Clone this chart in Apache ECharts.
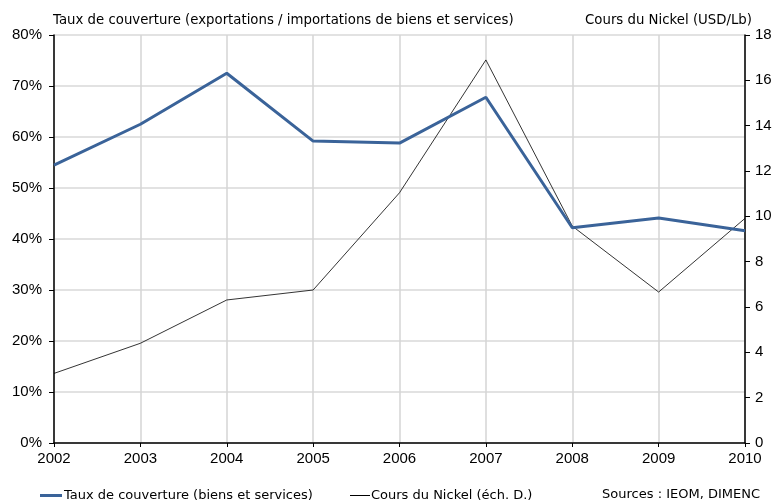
<!DOCTYPE html>
<html><head><meta charset="utf-8">
<script src="https://cdn.jsdelivr.net/npm/echarts@6/dist/echarts.min.js"></script>
<style>html,body{margin:0;padding:0;background:#fff}#c{width:778px;height:502px}</style>
</head><body><div id="c"></div>
<script>
const years = ['2002','2003','2004','2005','2006','2007','2008','2009','2010'];
const tauxCouverture = [54.5, 62.5, 72.5, 59.2, 58.8, 67.8, 42.2, 44.1, 41.6];
const coursNickel = [3.07, 4.4, 6.31, 6.75, 11.04, 16.9, 9.57, 6.66, 9.91];
const leftTitle = 'Taux de couverture (exportations / importations de biens et services)';
const rightTitle = 'Cours du Nickel (USD/Lb)';
const seriesNames = ['Taux de couverture (biens et services)', 'Cours du Nickel (éch. D.)'];
const sourceText = 'Sources : IEOM, DIMENC';

const FONT = 'Liberation Sans';
const TFONT = 'DejaVu Sans';
const chart = echarts.init(document.getElementById('c'));
chart.setOption({
  animation: false,
  backgroundColor: '#fff',
  textStyle: {fontFamily: FONT},
  grid: {left: 54, right: 33, top: 35, bottom: 59, containLabel: false},
  xAxis: {
    type: 'category', data: years, boundaryGap: false,
    axisLine: {lineStyle: {color: '#000', width: 1.5}},
    axisTick: {show: true, length: 4, lineStyle: {color: '#000'}},
    axisLabel: {color: '#000', fontSize: 15, fontFamily: FONT, margin: 8},
    splitLine: {show: true, lineStyle: {color: '#d4d4d4', width: 1.5}}
  },
  yAxis: [{
    type: 'value', min: 0, max: 80, interval: 10,
    axisLine: {show: true, lineStyle: {color: '#000', width: 1.5}},
    axisTick: {show: true, length: 5, lineStyle: {color: '#000'}},
    axisLabel: {color: '#000', fontSize: 15, fontFamily: FONT, formatter: '{value}%', margin: 12},
    splitLine: {show: true, lineStyle: {color: '#d9d9d9', width: 1.5}}
  }, {
    type: 'value', min: 0, max: 18, interval: 2, position: 'right',
    axisLine: {show: true, lineStyle: {color: '#000', width: 1.5}},
    axisTick: {show: true, length: 5, lineStyle: {color: '#000'}},
    axisLabel: {color: '#000', fontSize: 15, fontFamily: FONT, margin: 10},
    splitLine: {show: false}
  }],
  legend: [{
    left: 35, top: 484, itemWidth: 22, itemHeight: 3, itemGap: 4,
    icon: 'rect',
    textStyle: {color: '#000', fontSize: 13, fontFamily: TFONT, padding: [0,0,0,-3]},
    data: [{name: seriesNames[0], itemStyle: {color: '#3a6399'}}]
  }, {
    left: 345, top: 484, itemWidth: 20, itemHeight: 1,
    icon: 'rect',
    textStyle: {color: '#000', fontSize: 13, fontFamily: TFONT, padding: [0,0,0,-4]},
    data: [{name: seriesNames[1], itemStyle: {color: '#000'}}]
  }],
  graphic: [
    {type: 'text', left: 53, top: 14, style: {text: leftTitle, fontSize: 13.3, fontFamily: TFONT, fill: '#000'}},
    {type: 'text', right: 26, top: 14, style: {text: rightTitle, fontSize: 13.3, fontFamily: TFONT, fill: '#000'}},
    {type: 'text', right: 18, top: 488, style: {text: sourceText, fontSize: 13, fontFamily: TFONT, fill: '#000'}}
  ],
  series: [{
    name: seriesNames[0], type: 'line', yAxisIndex: 0, data: tauxCouverture,
    symbol: 'none', lineStyle: {color: '#3a6399', width: 3}, itemStyle: {color: '#3a6399'}, z: 3
  }, {
    name: seriesNames[1], type: 'line', yAxisIndex: 1, data: coursNickel,
    symbol: 'none', lineStyle: {color: '#000', width: 0.8}, itemStyle: {color: '#000'}, z: 2
  }]
});
</script></body></html>
